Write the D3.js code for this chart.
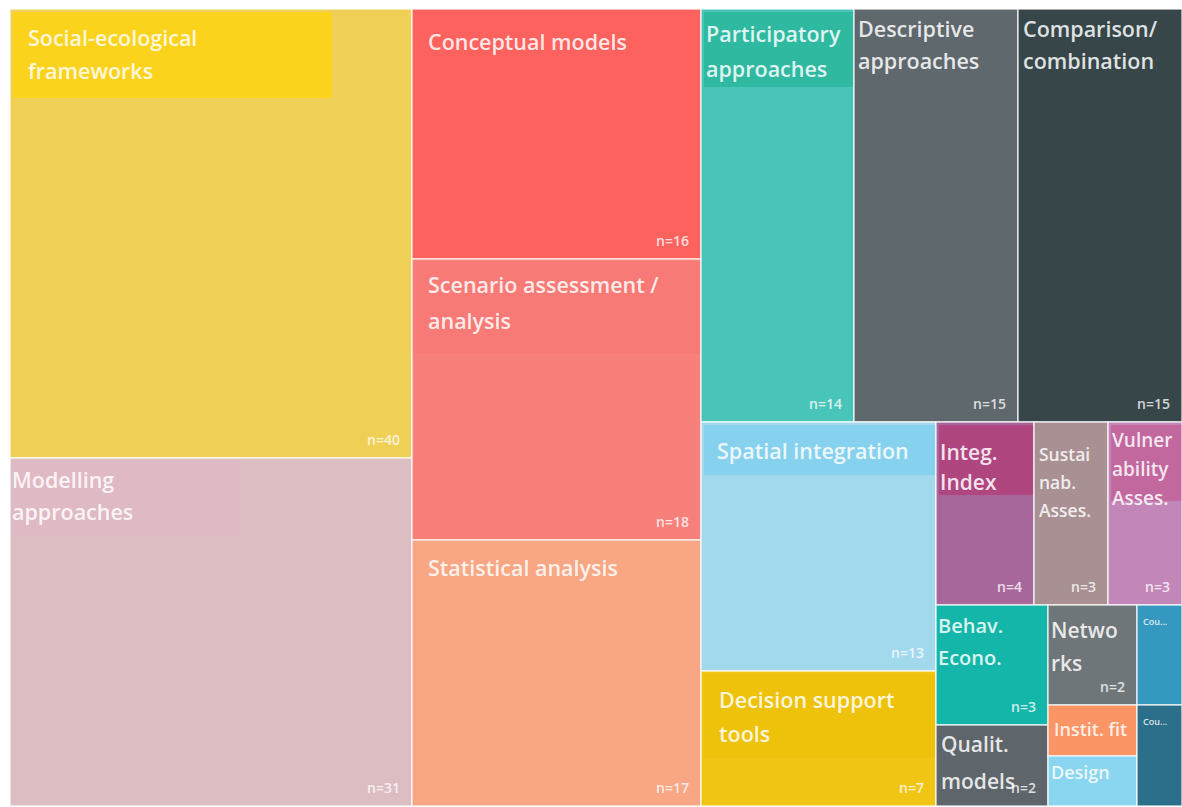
<!DOCTYPE html>
<html>
<head>
<meta charset="utf-8">
<script src="https://cdn.jsdelivr.net/npm/d3@7"></script>
<style>
  html, body { margin: 0; padding: 0; background: #fff; }
  svg { display: block; font-family: "Open Sans", "Noto Sans", sans-serif; }
</style>
</head>
<body>
<svg id="chart" width="1182" height="807"></svg>
<script>
// ── Data ────────────────────────────────────────────────────────────────────
const labels = [
  ['Social-ecological', 'frameworks'],
  ['Modelling', 'approaches'],
  ['Conceptual models'],
  ['Scenario assessment /', 'analysis'],
  ['Statistical analysis'],
  ['Participatory', 'approaches'],
  ['Descriptive', 'approaches'],
  ['Comparison/', 'combination'],
  ['Spatial integration'],
  ['Decision support', 'tools'],
  ['Integ.', 'Index'],
  ['Sustai', 'nab.', 'Asses.'],
  ['Vulner', 'ability', 'Asses.'],
  ['Behav.', 'Econo.'],
  ['Qualit.', 'models'],
  ['Netwo', 'rks'],
  ['Instit. fit'],
  ['Design'],
  ['Cou...'],
  ['Cou...']
];
const counts = [40, 31, 16, 18, 17, 14, 15, 15, 13, 7, 4, 3, 3, 3, 2, 2, 1, 1, 1, 1];

const fills = [
  '#efcf56', '#dcbdc1', '#fd625e', '#f8807b', '#f8a683',
  '#48c4b8', '#5f686d', '#374649', '#a2d9ec', '#f0c514',
  '#a8679b', '#a99193', '#c286b8', '#13b6a8', '#5e666b',
  '#6f767a', '#fb9565', '#8ad5ef', '#3598be', '#2b6f8a'
];
const headFills = [
  '#fbd31c', '#dfb9c4', '#fd625e', '#f77a76', '#f8a683',
  '#2fb9a1', '#5f686d', '#374649', '#86d1ee', '#eec10a',
  '#b0467f', '#a99193', '#c2689f', '#03b3a5', '#5e666b',
  '#6f767a', '#fb9565', '#8ad5ef', '#3598be', '#2b6f8a'
];

// nesting of the tiles: 'h' = side by side, 'v' = stacked
const nesting =
  ['h', ['v', 0, 1], ['v', 2, 3, 4],
        ['v', ['h', 5, 6, 7],
              ['h', ['v', 8, 9],
                    ['v', ['h', 10, 11, 12],
                          ['h', ['v', 13, 14], ['v', 15, 16, 17], ['v', 18, 19]]]]]];

// label styling per tile: font size, left pad, first baseline, line step, header height / width share
const styles = [
  { fs: 21.5, px: 18, py: 37, lh: 33, hh: 86, hw: 0.8 },
  { fs: 21.5, px: 2,  py: 30, lh: 32, hh: 76, hw: 0.57 },
  { fs: 21.5, px: 16, py: 41, lh: 33, hh: 0,  hw: 1 },
  { fs: 21.5, px: 16, py: 34, lh: 36, hh: 92, hw: 1 },
  { fs: 21.5, px: 16, py: 36, lh: 33, hh: 0,  hw: 1 },
  { fs: 21.5, px: 5,  py: 33, lh: 35, hh: 75, hw: 1 },
  { fs: 21.5, px: 4,  py: 28, lh: 32, hh: 0,  hw: 1 },
  { fs: 21.5, px: 5,  py: 28, lh: 32, hh: 0,  hw: 1 },
  { fs: 21.5, px: 16, py: 37, lh: 33, hh: 50, hw: 1 },
  { fs: 21.5, px: 18, py: 37, lh: 34, hh: 84, hw: 1 },
  { fs: 21,   px: 4,  py: 38, lh: 30, hh: 70, hw: 1 },
  { fs: 17.5, px: 5,  py: 39, lh: 28, hh: 0,  hw: 1 },
  { fs: 19,   px: 4,  py: 25, lh: 29, hh: 76, hw: 1 },
  { fs: 20,   px: 2,  py: 28, lh: 32, hh: 0,  hw: 1 },
  { fs: 21,   px: 5,  py: 27, lh: 37, hh: 0,  hw: 1 },
  { fs: 21,   px: 3,  py: 33, lh: 33, hh: 0,  hw: 1 },
  { fs: 18,   px: 6,  py: 31, lh: 20, hh: 0,  hw: 1 },
  { fs: 18,   px: 3,  py: 23, lh: 20, hh: 0,  hw: 1 },
  { fs: 9,    px: 6,  py: 20, lh: 12, hh: 0,  hw: 1 },
  { fs: 9,    px: 6,  py: 20, lh: 12, hh: 0,  hw: 1 }
];

// ── Layout ──────────────────────────────────────────────────────────────────
const margin = { left: 10, top: 9, right: 0, bottom: 1 };
const W = 1182, H = 807;

function build(n) {
  if (typeof n === 'number') return { i: n };
  return { dir: n[0], children: n.slice(1).map(build) };
}

const root = d3.hierarchy(build(nesting))
  .sum(d => d.i != null ? counts[d.i] : 0);

d3.treemap()
  .tile((node, x0, y0, x1, y1) =>
    (node.data.dir === 'h' ? d3.treemapDice : d3.treemapSlice)(node, x0, y0, x1, y1))
  .size([W - margin.left - margin.right, H - margin.top - margin.bottom])
  .round(true)(root);

const svg = d3.select('#chart');
const g = svg.append('g').attr('transform', `translate(${margin.left},${margin.top})`);

const cell = g.selectAll('g.cell')
  .data(root.leaves())
  .join('g')
  .attr('class', 'cell')
  .attr('transform', d => `translate(${d.x0},${d.y0})`);

cell.append('clipPath')
  .attr('id', d => 'clip' + d.data.i)
  .append('rect')
  .attr('width', d => d.x1 - d.x0)
  .attr('height', d => d.y1 - d.y0);

cell.append('rect')
  .attr('width', d => d.x1 - d.x0)
  .attr('height', d => d.y1 - d.y0)
  .attr('fill', d => fills[d.data.i]);

// header band behind the label
cell.append('rect')
  .attr('clip-path', d => `url(#clip${d.data.i})`)
  .attr('x', 3).attr('y', 3)
  .attr('width', d => Math.max(0, (d.x1 - d.x0) * styles[d.data.i].hw - 3))
  .attr('height', d => styles[d.data.i].hh)
  .attr('fill', d => headFills[d.data.i]);

// cell borders
cell.append('rect')
  .attr('width', d => d.x1 - d.x0)
  .attr('height', d => d.y1 - d.y0)
  .attr('fill', 'none')
  .attr('stroke', '#fff')
  .attr('stroke-opacity', 0.75)
  .attr('stroke-width', 1.5);

cell.append('text')
  .attr('clip-path', d => `url(#clip${d.data.i})`)
  .attr('fill', '#fff')
  .attr('fill-opacity', 0.85)
  .attr('font-weight', 600)
  .attr('font-size', d => styles[d.data.i].fs + 'px')
  .selectAll('tspan')
  .data(d => labels[d.data.i].map((t, k) => ({ t, k, s: styles[d.data.i] })))
  .join('tspan')
  .attr('x', d => d.s.px)
  .attr('y', d => d.s.py + d.k * d.s.lh)
  .text(d => d.t);

cell.filter(d => counts[d.data.i] > 1)
  .append('text')
  .attr('x', d => d.x1 - d.x0 - 12)
  .attr('y', d => d.y1 - d.y0 - 13)
  .attr('text-anchor', 'end')
  .attr('fill', '#fff')
  .attr('fill-opacity', 0.8)
  .attr('font-weight', 600)
  .attr('font-size', '14px')
  .text(d => 'n=' + counts[d.data.i]);
</script>
</body>
</html>
